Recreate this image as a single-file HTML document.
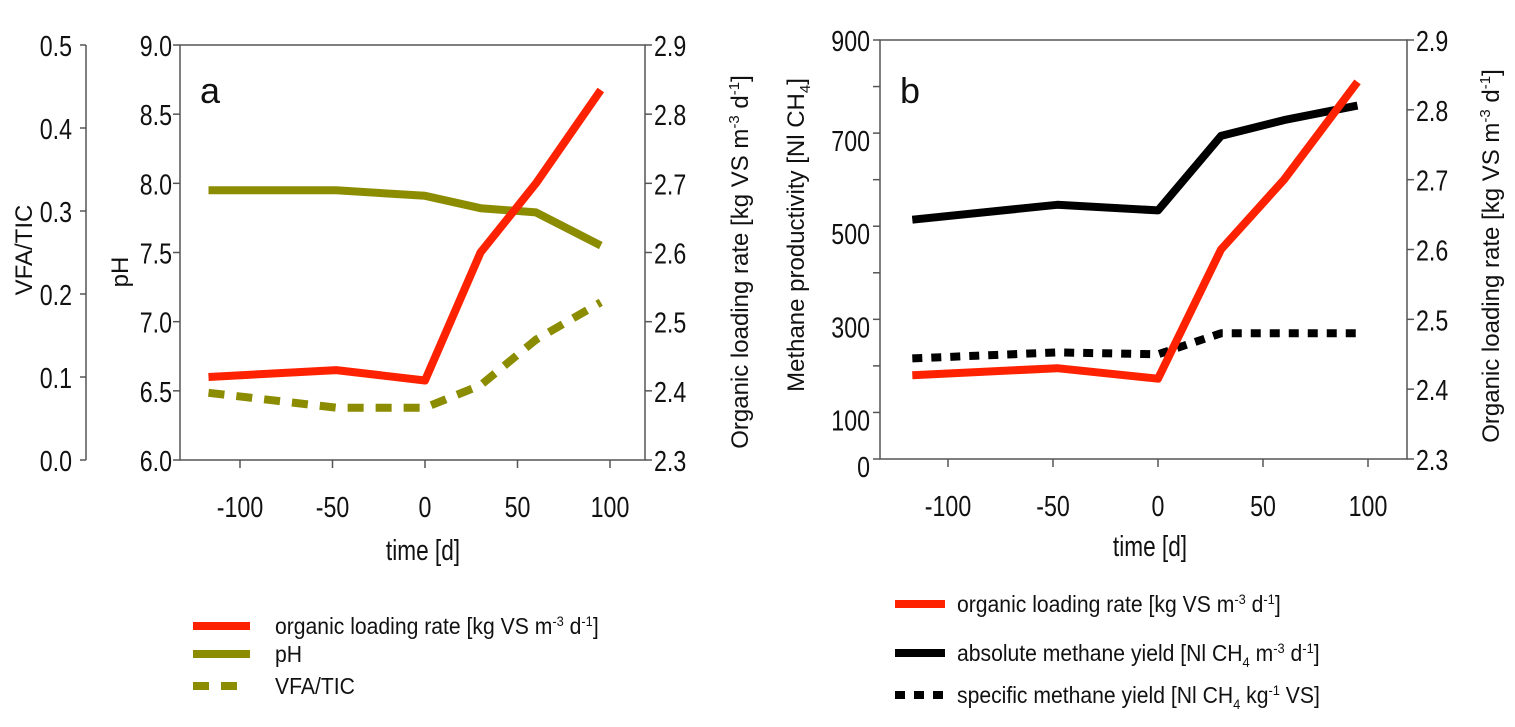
<!DOCTYPE html>
<html><head><meta charset="utf-8">
<style>
html,body{margin:0;padding:0;background:#fff;}
svg{display:block;}
text{font-family:"Liberation Sans",sans-serif;fill:#111;}
.tk{font-size:29px;}
.tt{font-size:24px;}
.lg{font-size:20px;}
</style></head>
<body>
<svg id="c" width="1515" height="727" viewBox="0 0 1515 727"></svg>
<script>
const days = [-117, -48, 0, 30, 60, 95];
const olrA = [2.42, 2.43, 2.415, 2.60, 2.70, 2.835];
const phA = [7.95, 7.95, 7.91, 7.82, 7.79, 7.55];
const vfaA = [0.081, 0.063, 0.063, 0.09, 0.145, 0.19];
const olrB = [2.42, 2.43, 2.415, 2.60, 2.70, 2.84];
const absB = [514, 546, 534, 694, 728, 759];
const specB = [216, 229, 225, 270, 270, 270];
const xTicks = [-100, -50, 0, 50, 100];
const phTicks = ["6.0","6.5","7.0","7.5","8.0","8.5","9.0"];
const vfaTicks = ["0.0","0.1","0.2","0.3","0.4","0.5"];
const olrTicks = ["2.3","2.4","2.5","2.6","2.7","2.8","2.9"];
const mTicks = [0,100,200,300,400,500,600,700,800,900];
const mLabels = ["0","100","","300","","500","","700","","900"];

const NS="http://www.w3.org/2000/svg";
const svg=document.getElementById('c');
function el(tag,attrs,parent){const e=document.createElementNS(NS,tag);for(const k in attrs)e.setAttribute(k,attrs[k]);(parent||svg).appendChild(e);return e;}
function txt(s,attrs,parent){const e=el('text',attrs,parent);e.textContent=s;return e;}
function ntxt(s,x,y,anchor,parent,sx){
  const e=el('text',{transform:`translate(${x},${y}) scale(${sx||0.8},1)`,'text-anchor':anchor||'start',class:'tk'},parent);
  e.textContent=s;return e;
}

const aX0=180,aX1=645,aT=45,aB=460;
const axA=d=>425+d*1.85;
const phY=v=>aB-(v-6)/3*(aB-aT);
const vfaY=v=>aB-v/0.5*(aB-aT);
const olrAY=v=>aB-(v-2.3)/0.6*(aB-aT);
const bX0=880,bX1=1407,bT=40,bB=459;
const bxB=d=>1158+d*2.1;
const mY=v=>bB-v/900*(bB-bT);
const olrBY=v=>bB-(v-2.3)/0.6*(bB-bT);

const gA=el('g',{});


const gB=el('g',{});



function frame(g,x0,x1,t,b,name){
  const f=el('path',{d:`M${x0} ${t}H${x1}V${b}H${x0}Z`,fill:'none',stroke:'#555','stroke-width':1.5},g);
  
  
}
frame(gA,aX0,aX1,aT,aB,'plot-frame-a');
frame(gB,bX0,bX1,bT,bB,'plot-frame-b');

function xaxis(g,sx,b,name){
  xTicks.forEach(d=>{
    el('line',{x1:sx(d),x2:sx(d),y1:b,y2:b+8,stroke:'#555','stroke-width':1.5},g);
    const t=ntxt(String(d),sx(d),b+57,'middle',g);
    
    
  });
}
xaxis(gA,axA,aB,'x-axis-a');
xaxis(gB,bxB,bB,'x-axis-b');
let t;
t=ntxt('time [d]',423,560,'middle',gA,0.78);


t=ntxt('time [d]',1150,556,'middle',gB,0.78);



phTicks.forEach(s=>{const y=phY(+s);
  el('line',{x1:aX0-7,x2:aX0,y1:y,y2:y,stroke:'#555','stroke-width':1.5},gA);
  const e=ntxt(s,aX0-8,y+11,'end',gA);
  
  
});
el('line',{x1:86,x2:86,y1:aT,y2:aB,stroke:'#555','stroke-width':1.5},gA);
vfaTicks.forEach(s=>{const y=vfaY(+s);
  el('line',{x1:80,x2:86,y1:y,y2:y,stroke:'#555','stroke-width':1.5},gA);
  const e=ntxt(s,72,y+11,'end',gA);
  
  
});
function olrAxis(g,x,sy,name){
  olrTicks.forEach(s=>{const y=sy(+s);
    el('line',{x1:x,x2:x+7,y1:y,y2:y,stroke:'#555','stroke-width':1.5},g);
    const e=ntxt(s,x+9,y+11,'start',g);
    
    
  });
}
olrAxis(gA,aX1,olrAY,'olr-tick-label-a');
olrAxis(gB,bX1,olrBY,'olr-tick-label-b');
mTicks.forEach((v,i)=>{const y=mY(v);
  el('line',{x1:bX0-7,x2:bX0,y1:y,y2:y,stroke:'#555','stroke-width':1.5},gB);
  if(mLabels[i]){const e=ntxt(mLabels[i],bX0-10,y+(v===900?11:18),'end',gB);
    
    }
});

function vtitle(g,x,y,html,name){
  const e=el('text',{transform:`translate(${x},${y}) rotate(-90)`,'text-anchor':'middle',class:'tt'},g);
  e.innerHTML=html;
  
  
}
vtitle(gA,32,250,'VFA/TIC','vfa-axis-title');
vtitle(gA,128,272,'pH','ph-axis-title');
vtitle(gA,748,262,'Organic loading rate [kg VS m<tspan dy="-9" font-size="15">-3</tspan><tspan dy="9"> d</tspan><tspan dy="-9" font-size="15">-1</tspan><tspan dy="9">]</tspan>','olr-axis-title-a');
vtitle(gB,804,235,'Methane productivity [Nl CH<tspan dy="6" font-size="15">4</tspan><tspan dy="-6">]</tspan>','methane-axis-title');
vtitle(gB,1499,256,'Organic loading rate [kg VS m<tspan dy="-9" font-size="15">-3</tspan><tspan dy="9"> d</tspan><tspan dy="-9" font-size="15">-1</tspan><tspan dy="9">]</tspan>','olr-axis-title-b');
t=txt('a',{x:200,y:103,style:'font-size:36px'},gA);


t=txt('b',{x:900,y:103,style:'font-size:36px'},gB);



function line(g,xs,ys,sx,sy,color,dash,name){
  const d=xs.map((x,i)=>(i?'L':'M')+sx(x).toFixed(1)+' '+sy(ys[i]).toFixed(1)).join('');
  const a={d:d,fill:'none',stroke:color,'stroke-width':8,'stroke-linejoin':'round'};
  if(dash)a['stroke-dasharray']=dash;
  const p=el('path',a,g);
  
  
}
line(gA,days,phA,axA,phY,'#8c8c00',null,'ph-line');
line(gA,days,vfaA,axA,vfaY,'#8c8c00','16 12','vfa-tic-line');
line(gA,days,olrA,axA,olrAY,'#ff2200',null,'olr-line-a');
line(gB,days,absB,bxB,mY,'#000',null,'absolute-methane-line');
line(gB,days,specB,bxB,mY,'#000','10 9','specific-methane-line');
line(gB,days,olrB,bxB,olrBY,'#ff2200',null,'olr-line-b');

function leg(g,x,y,tx,len,color,dash,html,name){
  const a={x1:x,x2:x+len,y1:y,y2:y,stroke:color,'stroke-width':8};
  if(dash)a['stroke-dasharray']=dash;
  const l=el('line',a,g);
  
  
  const e=el('text',{transform:`translate(${tx},${y+8}) scale(0.92,1)`,class:'lg',style:'font-size:23px'},g);
  e.innerHTML=html;
  
  
}
leg(gA,193,626,275,57,'#ff2200',null,'organic loading rate [kg VS m<tspan dy="-8" font-size="14">-3</tspan><tspan dy="8"> d</tspan><tspan dy="-8" font-size="14">-1</tspan><tspan dy="8">]</tspan>','legend-olr-a');
leg(gA,193,654,275,57,'#8c8c00',null,'pH','legend-ph');
leg(gA,193,686,275,54,'#8c8c00','16 12','VFA/TIC','legend-vfa');
leg(gB,895,604,957,50,'#ff2200',null,'organic loading rate [kg VS m<tspan dy="-8" font-size="14">-3</tspan><tspan dy="8"> d</tspan><tspan dy="-8" font-size="14">-1</tspan><tspan dy="8">]</tspan>','legend-olr-b');
leg(gB,895,653,957,50,'#000',null,'absolute methane yield [Nl CH<tspan dy="6" font-size="14">4</tspan><tspan dy="-6"> m</tspan><tspan dy="-8" font-size="14">-3</tspan><tspan dy="8"> d</tspan><tspan dy="-8" font-size="14">-1</tspan><tspan dy="8">]</tspan>','legend-absolute-methane');
leg(gB,895,695,957,50,'#000','10 9','specific methane yield [Nl CH<tspan dy="6" font-size="14">4</tspan><tspan dy="-6"> kg</tspan><tspan dy="-8" font-size="14">-1</tspan><tspan dy="8"> VS]</tspan>','legend-specific-methane');
</script>
</body></html>
